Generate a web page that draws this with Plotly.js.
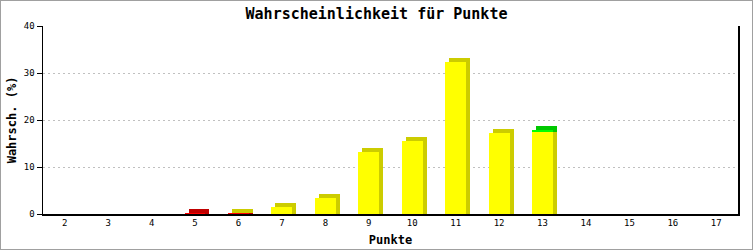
<!DOCTYPE html>
<html><head><meta charset="utf-8">
<script src="https://cdn.plot.ly/plotly-3.0.1.min.js"></script>
<style>body{margin:0;background:#fff}#c{width:751px;height:248px;border:1px solid #a0a0a0}</style>
</head><body><div id="c"></div>
<script>
const categories = [2,3,4,5,6,7,8,9,10,11,12,13,14,15,16,17];
const redVals    = [0,0,0,0.12,0.12,0,0,0,0,0,0,0,0,0,0,0];
const yellowVals = [0,0,0,0,0.2,1.4,3.3,13.2,15.6,32.4,17.3,17.4,0,0,0,0];
const greenVals  = [0,0,0,0,0,0,0,0,0,0,0,0.4,0,0,0,0];
const yTicks = [0,10,20,30,40];

const W=751,H=248,ml=42,mr=14,mt=25,mb=35;
const pw=W-ml-mr, ph=H-mt-mb;
const xr=[1.5,17.5], yr=[0,40];
const depth=4;
const dx=depth*(xr[1]-xr[0])/pw, dy=depth*(yr[1]-yr[0])/ph;
const bw=0.48;
const mono='"DejaVu Sans Mono", "Liberation Mono", monospace';

// stacking done from the series arrays
const baseRed = redVals.map(()=>0);
const baseYellow = redVals.slice();
const baseGreen = redVals.map((v,i)=>v+yellowVals[i]);

function front(len,base,color){
  return {type:'bar',x:categories,y:len,base:base,width:bw,xaxis:'x2',yaxis:'y2',
    marker:{color:color,line:{width:0}},hoverinfo:'skip',showlegend:false};
}
function shadow(len,base,color){
  // depth face: drawn on the depth-shifted axes, from the segment base up to its shifted top
  return {type:'bar',x:categories,y:len.map(v=>v>0?v+dy:0),base:base.map(b=>b-dy),width:bw,xaxis:'x',yaxis:'y',
    marker:{color:color,line:{width:0}},hoverinfo:'skip',showlegend:false};
}
const data=[
  shadow(redVals,baseRed,'#c00000'),
  shadow(yellowVals,baseYellow,'#cccc00'),
  shadow(greenVals,baseGreen,'#00c800'),
  front(redVals,baseRed,'#ff0000'),
  front(yellowVals,baseYellow,'#ffff00'),
  front(greenVals,baseGreen,'#00ff00')
];
const layout={
  width:W,height:H,margin:{l:ml,r:mr,t:mt,b:mb},
  paper_bgcolor:'#fff',plot_bgcolor:'#fff',barmode:'overlay',bargap:0,
  title:{text:'Wahrscheinlichkeit für Punkte',font:{family:mono,size:15,color:'#000',weight:'bold'},x:0.5,xanchor:'center',y:1-13/H,yanchor:'middle'},
  xaxis:{range:[xr[0]-dx,xr[1]-dx],visible:false,fixedrange:true},
  yaxis:{range:[yr[0]-dy,yr[1]-dy],visible:false,fixedrange:true},
  xaxis2:{overlaying:'x',range:xr,tickvals:categories,ticktext:categories.map(String),
    tickfont:{family:mono,size:9,color:'#000'},ticks:'',showgrid:false,zeroline:false,
    showline:true,linecolor:'#000',linewidth:1.5,
    title:{text:'Punkte',font:{family:mono,size:12,color:'#000',weight:'bold'},standoff:8}},
  yaxis2:{overlaying:'y',range:yr,tickvals:yTicks,ticktext:yTicks.map(String),
    tickfont:{family:mono,size:9,color:'#000'},ticks:'outside',ticklen:5,tickcolor:'#000',
    showgrid:true,gridcolor:'#c0c0c0',griddash:'2px,3px',gridwidth:1,zeroline:false,
    showline:true,mirror:true,linecolor:'#000',linewidth:1.5,
    title:{text:'Wahrsch. (%)',font:{family:mono,size:12,color:'#000',weight:'bold'},standoff:4}}
};
Plotly.newPlot('c',data,layout,{staticPlot:true});
</script></body></html>
